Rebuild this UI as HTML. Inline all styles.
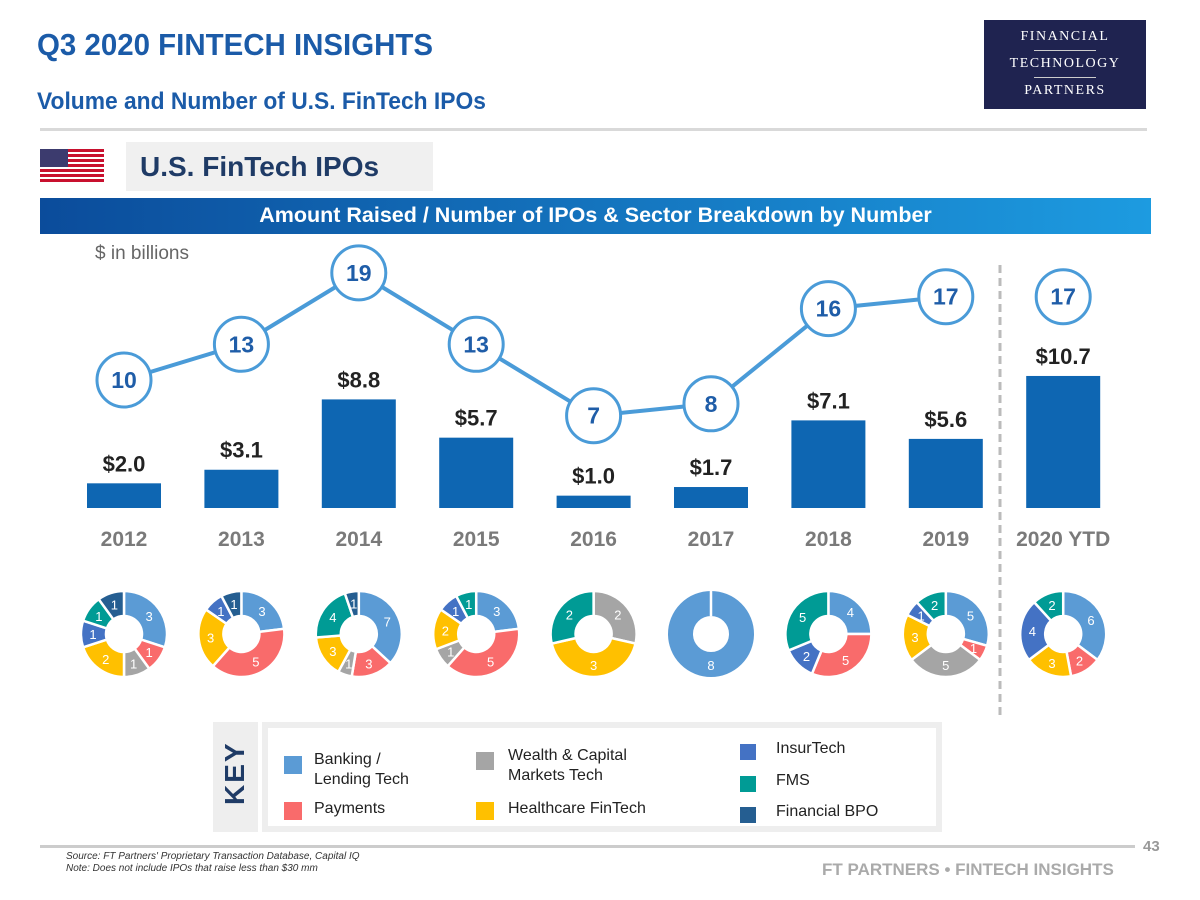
<!DOCTYPE html>
<html><head><meta charset="utf-8"><style>
body{margin:0;width:1200px;height:900px;background:#fff;font-family:"Liberation Sans",sans-serif;overflow:hidden;position:relative}
.abs{position:absolute}
</style></head><body>
<div class="abs" style="left:37px;top:27px;font-size:31px;font-weight:bold;color:#1B5BA8;transform:scaleX(0.95);transform-origin:left">Q3 2020 FINTECH INSIGHTS</div>
<div class="abs" style="left:37px;top:88px;font-size:24px;font-weight:bold;color:#1B5BA8;transform:scaleX(0.95);transform-origin:left">Volume and Number of U.S. FinTech IPOs</div>
<div class="abs" style="left:984px;top:20px;width:162px;height:89px;background:#1F2350;color:#fff;font-family:'Liberation Serif',serif;text-align:center;font-size:14px;letter-spacing:1.5px">
<div style="margin-top:9px">FINANCIAL</div><div style="width:62px;height:1px;background:#ccc;margin:5px auto"></div><div>TECHNOLOGY</div><div style="width:62px;height:1px;background:#ccc;margin:5px auto"></div><div>PARTNERS</div></div>
<div class="abs" style="left:40px;top:128px;width:1107px;height:3px;background:#d9d9d9"></div>
<div class="abs" style="left:40px;top:149px;width:64px;height:34px;background:repeating-linear-gradient(#C8102E 0 3px,#fff 3px 5px)"><div style="width:28px;height:18px;background:#3C3B6E"></div></div>
<div class="abs" style="left:126px;top:142px;width:307px;height:49px;background:#f0f0f0;font-size:28px;font-weight:bold;color:#1F3B66;line-height:49px;padding-left:14px;box-sizing:border-box">U.S. FinTech IPOs</div>
<div class="abs" style="left:40px;top:198px;width:1111px;height:36px;background:linear-gradient(90deg,#0B4C9B,#1D9BE0);color:#fff;font-weight:bold;font-size:21.5px;text-align:center;line-height:35px">Amount Raised / Number of IPOs &amp; Sector Breakdown by Number</div>
<div class="abs" style="left:95px;top:243px;font-size:19px;color:#666">$ in billions</div>
<svg class="abs" style="left:0;top:0" width="1200" height="900" id="chart"></svg>
<div class="abs" style="left:213px;top:722px;width:45px;height:110px;background:#eee"></div>
<div class="abs" style="left:210px;top:764px;width:50px;transform:rotate(-90deg);font-size:28px;font-weight:bold;color:#1F3B66;text-align:center;letter-spacing:2px">KEY</div>
<div class="abs" style="left:262px;top:722px;width:680px;height:110px;box-sizing:border-box;border:6px solid #eee;background:#fff;font-size:16px;color:#222">
<div class="abs" style="left:16px;top:22px"><span class="abs" style="left:0;top:6px;width:18px;height:18px;background:#5B9BD5"></span><div style="margin-left:30px;line-height:20px">Banking /<br>Lending Tech</div></div>
<div class="abs" style="left:16px;top:72px"><span class="abs" style="left:0;top:2px;width:18px;height:18px;background:#F96B6B"></span><div style="margin-left:30px">Payments</div></div>
<div class="abs" style="left:208px;top:18px"><span class="abs" style="left:0;top:6px;width:18px;height:18px;background:#A5A5A5"></span><div style="margin-left:32px;line-height:20px">Wealth &amp; Capital<br>Markets Tech</div></div>
<div class="abs" style="left:208px;top:72px"><span class="abs" style="left:0;top:2px;width:18px;height:18px;background:#FFC000"></span><div style="margin-left:32px">Healthcare FinTech</div></div>
<div class="abs" style="left:472px;top:12px"><span class="abs" style="left:0;top:4px;width:16px;height:16px;background:#4472C4"></span><div style="margin-left:36px">InsurTech</div></div>
<div class="abs" style="left:472px;top:44px"><span class="abs" style="left:0;top:4px;width:16px;height:16px;background:#009B95"></span><div style="margin-left:36px">FMS</div></div>
<div class="abs" style="left:472px;top:75px"><span class="abs" style="left:0;top:4px;width:16px;height:16px;background:#255E91"></span><div style="margin-left:36px">Financial BPO</div></div>
</div>
<div class="abs" style="left:40px;top:845px;width:1095px;height:3px;background:#ccc"></div>
<div class="abs" style="left:1143px;top:838px;font-size:15px;color:#999;font-weight:bold">43</div>
<div class="abs" style="left:66px;top:851px;font-size:10px;color:#333;font-style:italic;line-height:12px">Source: FT Partners' Proprietary Transaction Database, Capital IQ<br>Note: Does not include IPOs that raise less than $30 mm</div>
<div class="abs" style="left:822px;top:860px;font-size:17px;color:#aaa;font-weight:bold">FT PARTNERS • FINTECH INSIGHTS</div>
<script>
const years=["2012","2013","2014","2015","2016","2017","2018","2019","2020 YTD"];
const amounts=[2.0,3.1,8.8,5.7,1.0,1.7,7.1,5.6,10.7];
const counts=[10,13,19,13,7,8,16,17,17];
const sectorColors=["#5B9BD5","#F96B6B","#A5A5A5","#FFC000","#4472C4","#009B95","#255E91"];
const banking=[3,3,7,3,0,8,4,5,6];
const payments=[1,5,3,5,0,0,5,1,2];
const wealth=[1,0,1,1,2,0,0,5,0];
const healthcare=[2,3,3,2,3,0,0,3,3];
const insurtech=[1,1,0,1,0,0,2,1,4];
const fms=[1,0,4,1,2,0,5,2,2];
const bpo=[1,1,1,0,0,0,0,0,0];
const sectors=[banking,payments,wealth,healthcare,insurtech,fms,bpo];
const NS="http://www.w3.org/2000/svg",svg=document.getElementById('chart');
const xc=i=>124+i*117.4;
const yBar=v=>508-v*12.34;
const yCnt=n=>499-n*11.9;
function mk(t,a,p){const e=document.createElementNS(NS,t);for(const k in a)e.setAttribute(k,a[k]);(p||svg).appendChild(e);return e;}
const dv=mk('line',{x1:1000,y1:265,x2:1000,y2:718,stroke:'#bbb','stroke-width':3,'stroke-dasharray':'8,5'});


years.forEach((y,i)=>{
 const b=mk('rect',{x:xc(i)-37,y:yBar(amounts[i]),width:74,height:508-yBar(amounts[i]),fill:'#0E66B2'});
 
 
 const l=mk('text',{x:xc(i),y:yBar(amounts[i])-12,'text-anchor':'middle','font-size':22,'font-weight':'bold',fill:'#222'});
 l.textContent='$'+amounts[i].toFixed(1);
 
 
 const t=mk('text',{x:xc(i),y:546,'text-anchor':'middle','font-size':21,'font-weight':'bold',fill:'#7a7a7a'});
 t.textContent=y;
 
 
});
let pts=counts.slice(0,8).map((n,i)=>xc(i)+','+yCnt(n)).join(' ');
const pl=mk('polyline',{points:pts,fill:'none',stroke:'#4A9BD8','stroke-width':4});


counts.forEach((n,i)=>{
 const c=mk('circle',{cx:xc(i),cy:yCnt(n),r:27,fill:'#fff',stroke:'#4A9BD8','stroke-width':3});
 
 
 const t=mk('text',{x:xc(i),y:yCnt(n)+8,'text-anchor':'middle','font-size':23,'font-weight':'bold',fill:'#1F5DA8'});
 t.textContent=n;
 
 
});
years.forEach((y,i)=>{
 const cx=xc(i),cy=634,R=43,r=18;
 const vals=sectors.map(s=>s[i]);const tot=vals.reduce((a,b)=>a+b,0);
 let a0=0;
 vals.forEach((v,k)=>{
  if(!v)return;
  const a1=a0+v/tot*2*Math.PI;
  const P=(rad,a)=>[cx+rad*Math.sin(a),cy-rad*Math.cos(a)];
  let s;
  if(v===tot){
   s=mk('circle',{cx:cx,cy:cy,r:(R+r)/2,fill:'none',stroke:sectorColors[k],'stroke-width':R-r});
   mk('line',{x1:cx,y1:cy-R,x2:cx,y2:cy-r,stroke:'#fff','stroke-width':2.5});
  } else {
   const lg=(a1-a0)>Math.PI?1:0;const[p1,p2,p3,p4]=[P(R,a0),P(R,a1),P(r,a1),P(r,a0)];
   const d=`M${p1}A${R} ${R} 0 ${lg} 1 ${p2}L${p3}A${r} ${r} 0 ${lg} 0 ${p4}Z`;
   s=mk('path',{d:d,fill:sectorColors[k],stroke:'#fff','stroke-width':2.5});
  }
  
  
  const am=(a0+a1)/2,lp=P(31,v===tot?Math.PI:am);
  const t=mk('text',{x:lp[0],y:lp[1]+5,'text-anchor':'middle','font-size':13,fill:'#fff'});
  t.textContent=v;
  
  
  a0=a1;
 });
});
</script>
</body></html>
